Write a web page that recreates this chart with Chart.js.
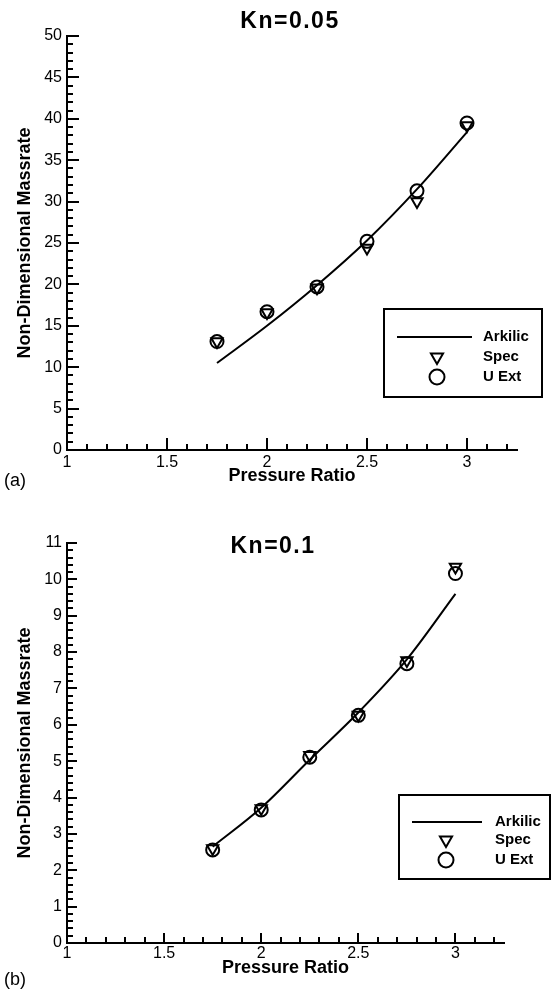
<!DOCTYPE html>
<html>
<head>
<meta charset="utf-8">
<title>Non-Dimensional Massrate vs Pressure Ratio</title>
<script src="https://cdn.jsdelivr.net/npm/chart.js@4/dist/chart.umd.min.js"></script>
<style>
  html, body { margin: 0; padding: 0; background: #fff; }
  #wrap { position: relative; width: 552px; height: 990px; }
  canvas { position: absolute; left: 0; }
  #chartA { top: 0; }
  #chartB { top: 490px; }
</style>
</head>
<body>
<div id="wrap">
  <canvas id="chartA" width="552" height="490"></canvas>
  <canvas id="chartB" width="552" height="500"></canvas>
</div>
<script>
// Pressure ratios at which the cases were run
const pressureRatio = [1.75, 2.0, 2.25, 2.5, 2.75, 3.0];

// Kn = 0.05
const arkilicKn005 = [10.5, 15.0, 19.9, 25.3, 31.5, 38.4];
const specKn005    = [13.1, 16.6, 19.6, 24.4, 30.0, 39.2];
const uextKn005    = [13.1, 16.7, 19.7, 25.2, 31.3, 39.5];

// Kn = 0.1
const arkilicKn01 = [2.65, 3.72, 5.04, 6.34, 7.8, 9.6];
const specKn01    = [2.6, 3.7, 5.16, 6.27, 7.77, 10.34];
const uextKn01    = [2.56, 3.66, 5.11, 6.26, 7.68, 10.16];

// Axis ranges and tick steps
const xRange = [1, 3.25];
const xMajorStep = 0.5, xMinorStep = 0.1;
const yRangeA = [0, 50], yMajorStepA = 5, yMinorStepA = 1;
const yRangeB = [0, 11], yMajorStepB = 1, yMinorStepB = 0.2;

const seriesNames = ['Arkilic', 'Spec', 'U Ext'];
const xTitle = 'Pressure Ratio';
const yTitle = 'Non-Dimensional Massrate';

const FONT = '"Liberation Sans", Arial, Helvetica, sans-serif';

function pts(ys) { return pressureRatio.map((x, i) => ({ x: x, y: ys[i] })); }

// Plain number labels: 1, 1.5, 2 ...
function plainLabel(v) { return String(Math.round(v * 100) / 100); }

// Inward tick marks along the bottom and left axes
const innerTicks = {
  id: 'innerTicks',
  beforeDatasetsDraw(chart, args, o) {
    const ctx = chart.ctx, xs = chart.scales.x, ys = chart.scales.y;
    const area = chart.chartArea;
    ctx.save();
    ctx.strokeStyle = '#000';
    ctx.lineWidth = 2;
    const isMul = (v, s) => Math.abs(v / s - Math.round(v / s)) < 1e-6;
    let n = Math.floor((xs.max - xs.min) / o.xMinor + 1e-6);
    for (let i = 1; i <= n; i++) {
      const v = xs.min + i * o.xMinor;
      const px = Math.round(xs.getPixelForValue(v));
      const len = isMul(v, o.xMajor) ? o.majorLen : o.minorLen;
      ctx.beginPath();
      ctx.moveTo(px, area.bottom);
      ctx.lineTo(px, area.bottom - len);
      ctx.stroke();
    }
    n = Math.floor((ys.max - ys.min) / o.yMinor + 1e-6);
    for (let i = 1; i <= n; i++) {
      const v = ys.min + i * o.yMinor;
      const py = Math.round(ys.getPixelForValue(v));
      const len = isMul(v, o.yMajor) ? o.majorLen : o.minorLen;
      ctx.beginPath();
      ctx.moveTo(area.left, py);
      ctx.lineTo(area.left + len, py);
      ctx.stroke();
    }
    ctx.restore();
  }
};

// Panel heading, panel tag and boxed legend
const panelText = {
  id: 'panelText',
  afterDraw(chart, args, o) {
    const ctx = chart.ctx;
    ctx.save();
    ctx.fillStyle = '#000';
    ctx.textBaseline = 'middle';

    // heading
    ctx.font = 'bold 23px ' + FONT;
    ctx.textAlign = 'center';
    if ('letterSpacing' in ctx) ctx.letterSpacing = '1.5px';
    ctx.fillText(o.title, o.titleX, o.titleY);
    if ('letterSpacing' in ctx) ctx.letterSpacing = '0px';

    // panel tag
    ctx.font = '18px ' + FONT;
    ctx.textAlign = 'left';
    ctx.fillText(o.tag, 4, o.tagY);

    // legend box
    const L = o.legend;
    ctx.strokeStyle = '#000';
    ctx.lineWidth = 2;
    ctx.strokeRect(L.x, L.y, L.w, L.h);
    ctx.beginPath();
    ctx.moveTo(L.lineX0, L.row0);
    ctx.lineTo(L.lineX1, L.row0);
    ctx.stroke();

    // open legend symbols
    const ds = chart.data.datasets;
    ctx.save();
    ctx.fillStyle = 'rgba(0,0,0,0)';
    ctx.strokeStyle = '#000';
    ctx.lineWidth = 2;
    Chart.helpers.drawPoint(ctx, {
      pointStyle: 'triangle', rotation: 180, radius: 7, borderWidth: 2
    }, L.symX, L.row1);
    Chart.helpers.drawPoint(ctx, {
      pointStyle: 'circle', rotation: 0, radius: 7.5, borderWidth: 2
    }, L.symX, L.row2);
    ctx.restore();

    ctx.fillStyle = '#000';
    ctx.font = 'bold 15px ' + FONT;
    ctx.textAlign = 'left';
    ctx.fillText(ds[0].label, L.textX, L.row0);
    ctx.fillText(ds[1].label, L.textX, L.row1);
    ctx.fillText(ds[2].label, L.textX, L.row2);
    ctx.restore();
  }
};

function makeChart(id, cfg) {
  return new Chart(document.getElementById(id), {
    type: 'scatter',
    data: {
      datasets: [
        {
          label: seriesNames[0], data: pts(cfg.arkilic), showLine: true,
          borderColor: '#000', borderWidth: 2, pointRadius: 0,
          cubicInterpolationMode: 'monotone', fill: false
        },
        {
          label: seriesNames[1], data: pts(cfg.spec), showLine: false,
          pointStyle: 'triangle', rotation: 180, pointRadius: 6.5,
          pointBorderWidth: 2, borderColor: '#000', backgroundColor: 'rgba(0,0,0,0)'
        },
        {
          label: seriesNames[2], data: pts(cfg.uext), showLine: false,
          pointStyle: 'circle', pointRadius: 6.5,
          pointBorderWidth: 2, borderColor: '#000', backgroundColor: 'rgba(0,0,0,0)'
        }
      ]
    },
    options: {
      responsive: false,
      animation: false,
      devicePixelRatio: 1,
      layout: { padding: cfg.padding },
      plugins: {
        legend: { display: false },
        tooltip: { enabled: false },
        innerTicks: {
          xMinor: xMinorStep, xMajor: xMajorStep,
          yMinor: cfg.yMinor, yMajor: cfg.yMajor,
          majorLen: cfg.majorLen, minorLen: cfg.minorLen
        },
        panelText: cfg.text
      },
      scales: {
        x: {
          type: 'linear', min: xRange[0], max: xRange[1],
          grid: { display: false, drawTicks: false },
          border: { display: true, color: '#000', width: 2 },
          ticks: {
            stepSize: xMajorStep, includeBounds: false, color: '#000',
            padding: cfg.xTickPad, maxRotation: 0,
            font: { family: FONT, size: 16 },
            callback: plainLabel
          },
          title: {
            display: true, text: xTitle, color: '#000',
            font: { family: FONT, size: 18, weight: 'bold' },
            padding: { top: 0, bottom: cfg.xTitlePad }
          },
          afterFit: s => { s.height = cfg.xHeight; }
        },
        y: {
          type: 'linear', min: cfg.yRange[0], max: cfg.yRange[1],
          grid: { display: false, drawTicks: false },
          border: { display: true, color: '#000', width: 2 },
          ticks: {
            stepSize: cfg.yMajor, color: '#000', padding: 5,
            font: { family: FONT, size: 16 },
            callback: plainLabel
          },
          title: {
            display: true, text: yTitle, color: '#000',
            font: { family: FONT, size: 18, weight: 'bold' },
            padding: { top: 14, bottom: 0 }
          },
          afterFit: s => { s.width = 67; }
        }
      }
    },
    plugins: [innerTicks, panelText]
  });
}

makeChart('chartA', {
  arkilic: arkilicKn005, spec: specKn005, uext: uextKn005,
  yRange: yRangeA, yMajor: yMajorStepA, yMinor: yMinorStepA,
  padding: { left: 0, top: 36, right: 35, bottom: 0 },
  xHeight: 40, xTickPad: 3, xTitlePad: 3,
  majorLen: 12, minorLen: 6,
  text: {
    title: 'Kn=0.05', titleX: 290, titleY: 22,
    tag: '(a)', tagY: 481,
    legend: {
      x: 384, y: 309, w: 158, h: 88,
      lineX0: 397, lineX1: 472, symX: 437, textX: 483,
      row0: 337, row1: 357, row2: 377
    }
  }
});

makeChart('chartB', {
  arkilic: arkilicKn01, spec: specKn01, uext: uextKn01,
  yRange: yRangeB, yMajor: yMajorStepB, yMinor: yMinorStepB,
  padding: { left: 0, top: 53, right: 48, bottom: 0 },
  xHeight: 47, xTickPad: 1, xTitlePad: 11,
  majorLen: 10, minorLen: 6,
  text: {
    title: 'Kn=0.1', titleX: 273, titleY: 57,
    tag: '(b)', tagY: 490,
    legend: {
      x: 399, y: 305, w: 151, h: 84,
      lineX0: 412, lineX1: 482, symX: 446, textX: 495,
      row0: 332, row1: 350, row2: 370
    }
  }
});
</script>
</body>
</html>
